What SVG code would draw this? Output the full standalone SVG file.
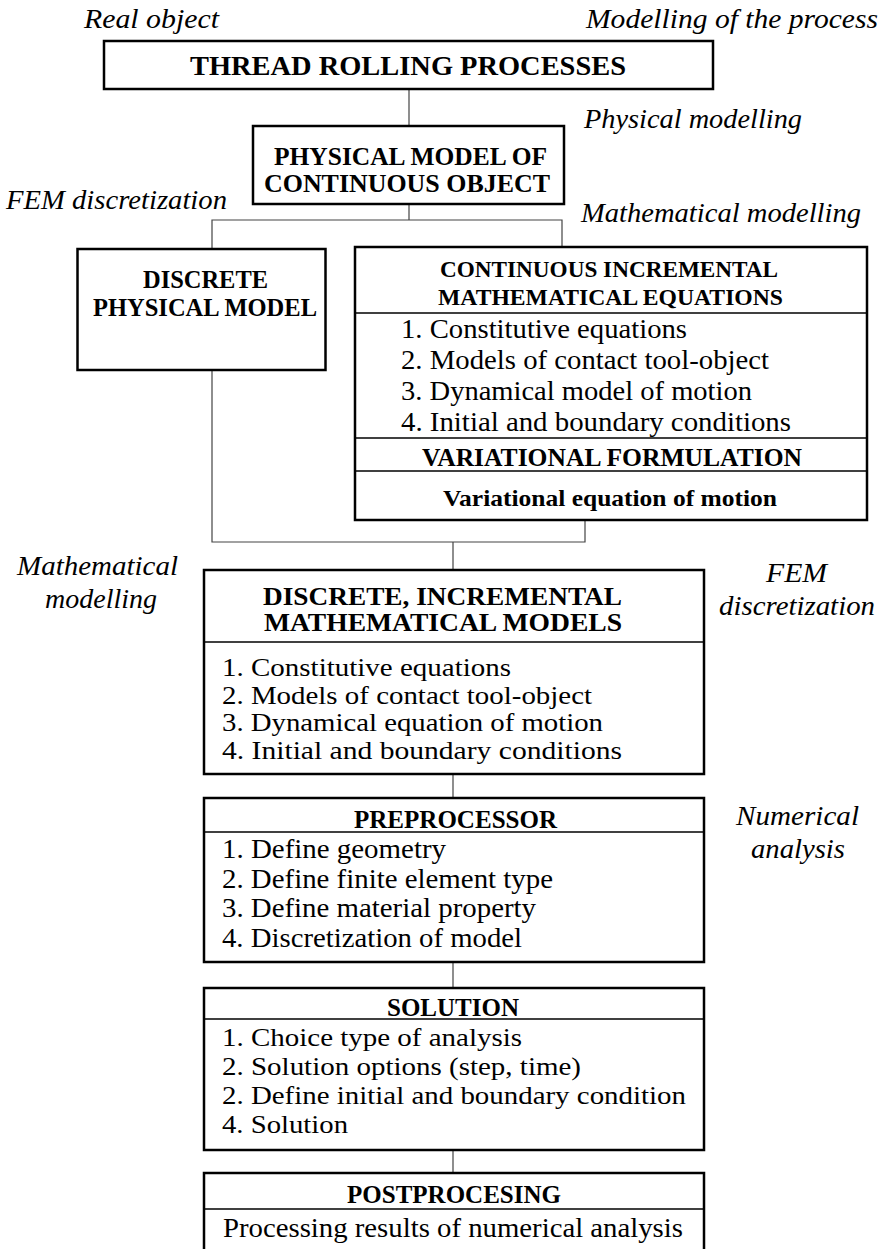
<svg xmlns="http://www.w3.org/2000/svg" width="880" height="1249" viewBox="0 0 880 1249">
<style>
.box{fill:#fff;stroke:#000;stroke-width:2.5}
.sep{stroke:#000;stroke-width:1.3}
.conn{stroke:#444;stroke-width:1.2;fill:none}
text{font-family:"Liberation Serif","Times New Roman",serif;fill:#000}
.lab{font-style:italic;font-size:27px}
.hd{font-weight:bold;font-size:25px}
.it{font-size:27px}
.it2{font-size:26px}
</style>
<rect width="880" height="1249" fill="#fff"/>
<g id="connectors">
<path class="conn" d="M409,89 V126"/>
<path class="conn" d="M409,204 V220 M212,248 V220 H562 V247"/>
<path class="conn" d="M212,370 V542 H585 V520 M453,542 V570"/>
<path class="conn" d="M453,774 V798"/>
<path class="conn" d="M453,962 V988"/>
<path class="conn" d="M453,1150 V1173"/>
</g>
<g id="labels">
<text class="lab" x="84" y="28" textLength="135" lengthAdjust="spacingAndGlyphs">Real object</text>
<text class="lab" x="586" y="28" textLength="292" lengthAdjust="spacingAndGlyphs">Modelling of the process</text>
<text class="lab" x="584" y="128" textLength="218" lengthAdjust="spacingAndGlyphs">Physical modelling</text>
<text class="lab" x="6" y="209" textLength="221" lengthAdjust="spacingAndGlyphs">FEM discretization</text>
<text class="lab" x="581" y="222" textLength="280" lengthAdjust="spacingAndGlyphs">Mathematical modelling</text>
<text class="lab" x="17" y="575" textLength="161" lengthAdjust="spacingAndGlyphs">Mathematical</text>
<text class="lab" x="45" y="608" textLength="112" lengthAdjust="spacingAndGlyphs">modelling</text>
<text class="lab" x="766" y="582" textLength="61" lengthAdjust="spacingAndGlyphs">FEM</text>
<text class="lab" x="719" y="615" textLength="156" lengthAdjust="spacingAndGlyphs">discretization</text>
<text class="lab" x="736" y="825" textLength="123" lengthAdjust="spacingAndGlyphs">Numerical</text>
<text class="lab" x="751" y="858" textLength="94" lengthAdjust="spacingAndGlyphs">analysis</text>
</g>
<g id="thread-rolling">
<rect class="box" x="104" y="41" width="609" height="48"/>
<text class="hd" style="font-size:28px" x="190" y="75" textLength="436" lengthAdjust="spacingAndGlyphs">THREAD ROLLING PROCESSES</text>
</g>
<g id="physical-model">
<rect class="box" x="253" y="126" width="311" height="78"/>
<text class="hd" x="274" y="165" textLength="273" lengthAdjust="spacingAndGlyphs">PHYSICAL MODEL OF</text>
<text class="hd" x="264" y="192" textLength="286" lengthAdjust="spacingAndGlyphs">CONTINUOUS OBJECT</text>
</g>
<g id="discrete-physical">
<rect class="box" x="77.5" y="249" width="248" height="121"/>
<text class="hd" style="font-size:26px" x="143" y="288" textLength="125" lengthAdjust="spacingAndGlyphs">DISCRETE</text>
<text class="hd" style="font-size:26px" x="93" y="316" textLength="224" lengthAdjust="spacingAndGlyphs">PHYSICAL MODEL</text>
</g>
<g id="continuous-equations">
<rect class="box" x="355" y="247" width="512" height="273"/>
<line class="sep" x1="355" y1="313" x2="867" y2="313"/>
<line class="sep" x1="355" y1="438" x2="867" y2="438"/>
<line class="sep" x1="355" y1="471" x2="867" y2="471"/>
<text class="hd" style="font-size:24px" x="440" y="277" textLength="338" lengthAdjust="spacingAndGlyphs">CONTINUOUS INCREMENTAL</text>
<text class="hd" style="font-size:24px" x="438" y="305" textLength="345" lengthAdjust="spacingAndGlyphs">MATHEMATICAL EQUATIONS</text>
<text class="it" x="401" y="338" textLength="286" lengthAdjust="spacingAndGlyphs">1. Constitutive equations</text>
<text class="it" x="401" y="369" textLength="368" lengthAdjust="spacingAndGlyphs">2. Models of contact tool-object</text>
<text class="it" x="401" y="400" textLength="351" lengthAdjust="spacingAndGlyphs">3. Dynamical model of motion</text>
<text class="it" x="401" y="431" textLength="390" lengthAdjust="spacingAndGlyphs">4. Initial and boundary conditions</text>
<text class="hd" x="422" y="466" textLength="380" lengthAdjust="spacingAndGlyphs">VARIATIONAL FORMULATION</text>
<text class="hd" style="font-size:24px" x="443" y="506" textLength="334" lengthAdjust="spacingAndGlyphs">Variational equation of motion</text>
</g>
<g id="discrete-incremental">
<rect class="box" x="204" y="570" width="500" height="204"/>
<line class="sep" x1="204" y1="642" x2="704" y2="642"/>
<text class="hd" x="263" y="605" textLength="359" lengthAdjust="spacingAndGlyphs">DISCRETE, INCREMENTAL</text>
<text class="hd" x="264" y="631" textLength="358" lengthAdjust="spacingAndGlyphs">MATHEMATICAL MODELS</text>
<text class="it2" x="222" y="676" textLength="289" lengthAdjust="spacingAndGlyphs">1. Constitutive equations</text>
<text class="it2" x="222" y="704" textLength="370" lengthAdjust="spacingAndGlyphs">2. Models of contact tool-object</text>
<text class="it2" x="222" y="731" textLength="381" lengthAdjust="spacingAndGlyphs">3. Dynamical equation of motion</text>
<text class="it2" x="222" y="759" textLength="400" lengthAdjust="spacingAndGlyphs">4. Initial and boundary conditions</text>
</g>
<g id="preprocessor">
<rect class="box" x="204" y="798" width="500" height="164"/>
<line class="sep" x1="204" y1="832" x2="704" y2="832"/>
<text class="hd" x="354" y="828" textLength="203" lengthAdjust="spacingAndGlyphs">PREPROCESSOR</text>
<text class="it" x="222" y="858" textLength="224" lengthAdjust="spacingAndGlyphs">1. Define geometry</text>
<text class="it" x="222" y="888" textLength="331" lengthAdjust="spacingAndGlyphs">2. Define finite element type</text>
<text class="it" x="222" y="917" textLength="314" lengthAdjust="spacingAndGlyphs">3. Define material property</text>
<text class="it" x="222" y="947" textLength="300" lengthAdjust="spacingAndGlyphs">4. Discretization of model</text>
</g>
<g id="solution">
<rect class="box" x="204" y="988" width="500" height="162"/>
<line class="sep" x1="204" y1="1019" x2="704" y2="1019"/>
<text class="hd" x="387" y="1016" textLength="132" lengthAdjust="spacingAndGlyphs">SOLUTION</text>
<text class="it2" x="222" y="1046" textLength="300" lengthAdjust="spacingAndGlyphs">1. Choice type of analysis</text>
<text class="it2" x="222" y="1075" textLength="359" lengthAdjust="spacingAndGlyphs">2. Solution options (step, time)</text>
<text class="it2" x="222" y="1104" textLength="464" lengthAdjust="spacingAndGlyphs">2. Define initial and boundary condition</text>
<text class="it2" x="222" y="1133" textLength="126" lengthAdjust="spacingAndGlyphs">4. Solution</text>
</g>
<g id="postprocessing">
<rect class="box" x="204" y="1173" width="500" height="90"/>
<line class="sep" x1="204" y1="1209" x2="704" y2="1209"/>
<text class="hd" x="347" y="1203" textLength="214" lengthAdjust="spacingAndGlyphs">POSTPROCESING</text>
<text class="it" x="223" y="1237" textLength="460" lengthAdjust="spacingAndGlyphs">Processing results of numerical analysis</text>
</g>
</svg>
